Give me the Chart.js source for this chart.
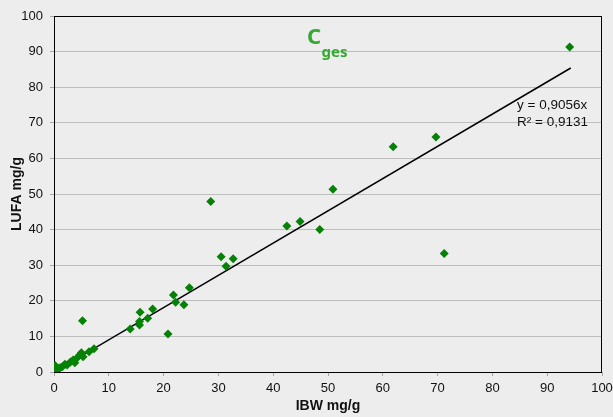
<!DOCTYPE html>
<html>
<head>
<meta charset="utf-8">
<script src="https://cdn.jsdelivr.net/npm/chart.js@4"></script>
<style>
  html, body { margin: 0; padding: 0; background: #ecedec; }
  #wrap { width: 613px; height: 417px; }
</style>
</head>
<body>
<div id="wrap"><canvas id="c" width="613" height="417"></canvas></div>
<script>
// IBW (x) and LUFA (y) values in mg/g
const ibw  = [0.1, 0.2, 0.5, 0.8, 1.1, 1.5, 2.0, 2.4, 3.0, 3.5, 3.8, 4.2, 4.7, 5.0, 5.3, 6.4, 7.3, 5.2,
              13.9, 15.6, 15.6, 15.7, 17.1, 18.0, 20.8, 21.8, 22.2, 23.7, 24.7, 28.6, 30.5, 31.4, 32.7,
              42.5, 44.9, 48.5, 50.9, 61.9, 69.7, 71.2, 94.1];
const lufa = [0.3, 1.8, 0.6, 0.9, 1.2, 1.5, 2.2, 2.0, 2.8, 3.4, 2.6, 3.9, 4.8, 5.4, 4.3, 5.7, 6.5, 14.4,
              12.1, 13.2, 14.2, 16.8, 15.1, 17.7, 10.7, 21.6, 19.6, 18.9, 23.7, 47.9, 32.4, 29.7, 31.8,
              41.0, 42.3, 40.0, 51.3, 63.3, 66.0, 33.3, 91.3];
// linear trend through origin
const slope = 0.9056;
const trendX = [0, 94.3];
const equationLines = ['y = 0,9056x', 'R\u00b2 = 0,9131'];
const xTitle = 'IBW mg/g';
const yTitle = 'LUFA mg/g';
const titleMain = 'C';
const titleSub = 'ges';

const points = ibw.map((x, i) => ({ x: x, y: lufa[i] }));
const trend = trendX.map(x => ({ x: x, y: slope * x }));

const bgPlugin = {
  id: 'bg',
  beforeDraw(chart) {
    const ctx = chart.ctx;
    ctx.save();
    ctx.fillStyle = '#ecedec';
    ctx.fillRect(0, 0, chart.width, chart.height);
    ctx.restore();
  }
};

const framePlugin = {
  id: 'frame',
  beforeDatasetsDraw(chart) {
    const { ctx, chartArea: a } = chart;
    ctx.save();
    ctx.strokeStyle = '#000';
    ctx.lineWidth = 1;
    ctx.strokeRect(Math.round(a.left) + 0.5, Math.round(a.top) + 0.5,
                   Math.round(a.right - a.left) - 1, Math.round(a.bottom - a.top));
    ctx.restore();
  },
  afterDatasetsDraw(chart) {
    const { ctx, chartArea: a, scales } = chart;
    ctx.save();
    // title C_ges
    ctx.fillStyle = '#36a932';
    ctx.textBaseline = 'alphabetic';
    ctx.textAlign = 'left';
    ctx.font = 'bold 22px "Noto Sans", "Open Sans", sans-serif';
    const cx = a.left + 253;
    ctx.fillText(titleMain, cx, a.top + 27.5);
    const w = ctx.measureText(titleMain).width;
    ctx.font = 'bold 15px "Noto Sans", "Open Sans", sans-serif';
    ctx.fillText(titleSub, cx + w + 0.5, a.top + 40.5);
    // equation
    ctx.fillStyle = '#111';
    ctx.font = '13.5px "Liberation Sans", Arial, sans-serif';
    const ex = scales.x.getPixelForValue(84.5);
    const ey = scales.y.getPixelForValue(74);
    equationLines.forEach((t, i) => ctx.fillText(t, ex, ey + i * 17));
    ctx.restore();
  }
};

new Chart(document.getElementById('c'), {
  type: 'scatter',
  data: {
    datasets: [
      {
        type: 'line',
        data: trend,
        borderColor: '#000',
        borderWidth: 1.5,
        pointRadius: 0,
        fill: false,
        order: 2
      },
      {
        data: points,
        pointStyle: 'rectRot',
        pointRadius: 4.5,
        pointHoverRadius: 4.5,
        backgroundColor: '#058205',
        borderColor: '#058205',
        borderWidth: 0,
        order: 1
      }
    ]
  },
  plugins: [bgPlugin, framePlugin],
  options: {
    responsive: false,
    animation: false,
    devicePixelRatio: 1,
    layout: { padding: { left: 0, top: 16, right: 11, bottom: 0 } },
    plugins: { legend: { display: false }, tooltip: { enabled: false } },
    scales: {
      x: {
        type: 'linear',
        min: 0, max: 100,
        afterFit(s) { s.height = 45; s.paddingRight = 0; s.paddingLeft = 0; },
        border: { display: false },
        grid: { drawOnChartArea: false, drawTicks: true, tickLength: 4, tickColor: '#a8a8a8' },
        ticks: { stepSize: 10, padding: 5, color: '#111', font: { family: '"Liberation Sans", Arial, sans-serif', size: 13 } },
        title: { display: true, text: xTitle, color: '#111', padding: { top: 0, bottom: 2 },
                 font: { family: '"Liberation Sans", Arial, sans-serif', size: 14, weight: 'bold' } }
      },
      y: {
        type: 'linear',
        min: 0, max: 100,
        afterFit(s) { s.width = 54; s.paddingTop = 0; s.paddingBottom = 0; },
        border: { display: false },
        grid: { color: '#bdbdbd', lineWidth: 1, drawTicks: true, tickLength: 4, tickColor: '#a8a8a8' },
        ticks: { stepSize: 10, padding: 7, color: '#111', font: { family: '"Liberation Sans", Arial, sans-serif', size: 13 } },
        title: { display: true, text: yTitle, color: '#111', padding: { top: 9, bottom: 0 },
                 font: { family: '"Liberation Sans", Arial, sans-serif', size: 14, weight: 'bold' } }
      }
    }
  }
});
</script>
</body>
</html>
